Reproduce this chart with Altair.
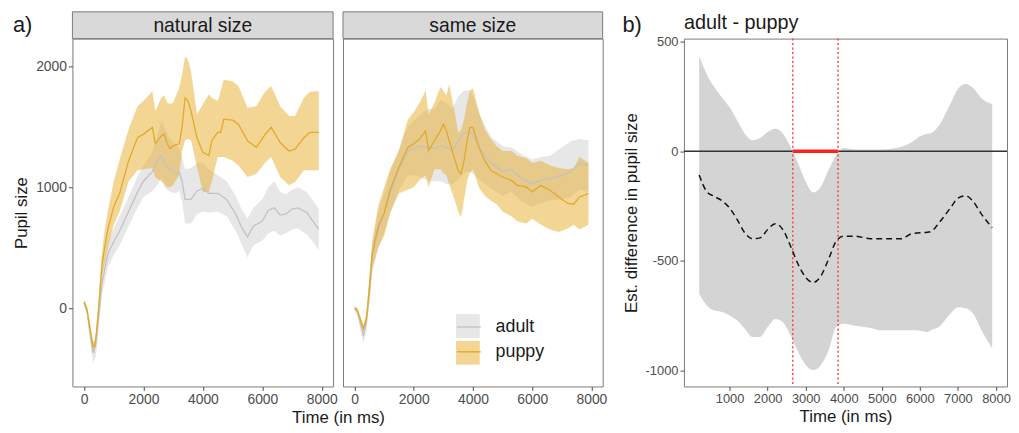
import altair as alt
import pandas as pd

FONT = "Liberation Sans"

# ---------------- panel a) natural size ----------------
nat_puppy_t = [0, 100, 200, 300, 350, 400, 500, 600, 700, 800, 1000, 1200, 1500, 1800, 2000, 2300, 2400, 2600,
               2700, 2800, 2900, 3000, 3200, 3300, 3400, 3500, 3600, 3800, 4000, 4200, 4300, 4500, 4600, 4700,
               5000, 5200, 5500, 5800, 6100, 6300, 6600, 6900, 7100, 7400, 7600, 7900]
nat_puppy_mean = [50, -10, -170, -310, -320, -250, 20, 350, 510, 650, 840, 950, 1220, 1410, 1440, 1495, 1360, 1425,
                  1440, 1360, 1320, 1345, 1360, 1495, 1740, 1713, 1630, 1410, 1290, 1262, 1385, 1455, 1455, 1563,
                  1555, 1520, 1385, 1330, 1440, 1495, 1370, 1300, 1315, 1410, 1455, 1455]
nat_puppy_hi = [70, 20, -120, -270, -280, -200, 100, 450, 650, 800, 1050, 1230, 1480, 1670, 1713, 1795, 1630, 1740,
                1760, 1700, 1690, 1700, 1822, 1932, 2082, 2055, 1960, 1604, 1686, 1768, 1740, 1713, 1795, 1890,
                1877, 1836, 1658, 1672, 1795, 1836, 1672, 1590, 1590, 1740, 1790, 1795]
nat_puppy_lo = [30, -40, -220, -360, -370, -300, -60, 250, 380, 500, 690, 800, 1050, 1140, 1150, 1160, 1080, 1050,
                1030, 1000, 1000, 1020, 1100, 1300, 1390, 1400, 1390, 1170, 960, 960, 1050, 1250, 1250, 1250,
                1220, 1180, 1085, 1112, 1207, 1250, 1085, 1016, 1044, 1140, 1140, 1140]

nat_adult_t = [0, 100, 200, 300, 400, 500, 600, 800, 1000, 1200, 1500, 1800, 2000, 2300, 2500, 2600, 2700, 2900,
               3100, 3200, 3300, 3400, 3600, 3800, 4000, 4200, 4500, 4800, 5100, 5300, 5500, 5700, 6000, 6200,
               6400, 6600, 6800, 7000, 7200, 7500, 7700, 7900]
nat_adult_mean = [40, -20, -200, -370, -300, -50, 200, 450, 550, 640, 800, 960, 1050, 1130, 1230, 1260, 1200, 1150,
                  1120, 1130, 1050, 900, 900, 970, 990, 950, 950, 900, 780, 670, 590, 680, 720, 810,
                  830, 770, 780, 820, 830, 790, 720, 650]
nat_adult_hi = [60, 0, -160, -310, -240, 30, 300, 560, 660, 760, 920, 1090, 1180, 1290, 1450, 1550, 1500, 1400,
                1350, 1330, 1250, 1150, 1160, 1200, 1200, 1150, 1100, 1050, 930, 820, 740, 830, 900, 1000,
                1050, 960, 940, 980, 1000, 960, 890, 820]
nat_adult_lo = [20, -60, -260, -450, -400, -150, 100, 340, 440, 520, 680, 830, 920, 970, 1030, 1080, 1000, 960,
                950, 970, 880, 700, 700, 780, 800, 790, 800, 760, 640, 530, 420, 520, 560, 620,
                640, 600, 620, 650, 660, 610, 550, 480]

# ---------------- panel a) same size ----------------
same_puppy_t = [0, 100, 300, 400, 500, 600, 800, 1000, 1200, 1500, 1800, 2000, 2200, 2400, 2500, 2700, 2900, 3000,
                3100, 3200, 3400, 3500, 3600, 3700, 3800, 3900, 4000, 4200, 4400, 4600, 4800, 5000, 5300, 5500,
                5800, 6000, 6300, 6600, 6900, 7200, 7400, 7600, 7900]
same_puppy_mean = [0, -20, -170, -90, 155, 455, 675, 785, 975, 1165, 1330, 1360, 1400, 1467, 1303, 1385, 1467, 1522,
                   1467, 1385, 1220, 1140, 1112, 1220, 1385, 1495, 1495, 1330, 1220, 1140, 1112, 1085, 1057, 1016,
                   1003, 962, 1016, 975, 920, 866, 860, 920, 948]
same_puppy_hi = [10, 0, -140, -40, 250, 560, 850, 1000, 1150, 1300, 1560, 1620, 1700, 1800, 1600, 1700, 1830, 1800,
                 1760, 1850, 1600, 1450, 1480, 1560, 1700, 1800, 1820, 1620, 1480, 1400, 1340, 1300, 1300, 1260,
                 1240, 1200, 1220, 1180, 1160, 1150, 1160, 1250, 1200]
same_puppy_lo = [-10, -40, -200, -140, 50, 330, 500, 600, 790, 950, 980, 1000, 1060, 1100, 1000, 1150, 1150, 1120,
                 1100, 1020, 880, 800, 750, 900, 1050, 1120, 1150, 1000, 930, 890, 860, 800, 760, 720,
                 700, 740, 690, 650, 630, 660, 690, 650, 690]

same_adult_t = [0, 100, 300, 400, 500, 600, 800, 1000, 1200, 1500, 1800, 2000, 2200, 2500, 2700, 2900, 3100, 3300,
                3500, 3700, 3900, 4000, 4300, 4600, 5000, 5300, 5600, 6000, 6300, 6600, 7000, 7300, 7600, 7900]
same_adult_mean = [0, -30, -230, -120, 150, 420, 650, 780, 950, 1150, 1300, 1320, 1340, 1330, 1320, 1340, 1330, 1300,
                   1380, 1450, 1460, 1430, 1300, 1200, 1130, 1150, 1080, 1030, 1060, 1070, 1100, 1130, 1200, 1180]
same_adult_hi = [20, 0, -180, -60, 260, 540, 800, 950, 1120, 1320, 1500, 1550, 1600, 1650, 1650, 1720, 1700, 1650,
                 1750, 1800, 1800, 1760, 1560, 1420, 1340, 1330, 1280, 1230, 1250, 1260, 1330, 1380, 1400, 1390]
same_adult_lo = [-20, -70, -290, -190, 40, 300, 500, 620, 780, 980, 1100, 1100, 1090, 1050, 1050, 1050, 1030, 1020,
                 1060, 1120, 1130, 1110, 1050, 990, 930, 960, 890, 840, 870, 890, 900, 920, 980, 960]

# ---------------- panel b) adult - puppy ----------------
diff_t = [200, 400, 600, 800, 1000, 1200, 1400, 1600, 1800, 2000, 2200, 2400, 2600, 2800, 3000, 3200, 3400, 3600,
          3800, 4000, 4300, 4700, 5000, 5500, 5800, 6000, 6200, 6300, 6500, 6800, 7000, 7200, 7400, 7600, 7900]
diff_mean = [-108, -184, -206, -226, -259, -312, -372, -399, -395, -357, -330, -357, -432, -515, -575, -598, -568,
             -492, -410, -387, -387, -399, -399, -399, -375, -372, -369, -365, -327, -259, -214, -203, -229, -282, -349]
diff_hi = [434, 351, 291, 245, 200, 140, 80, 50, 60, 87, 102, 80, 20, -56, -139, -188, -161,
           -86, -18, 15, 8, 8, 8, 20, 42, 68, 80, 83, 117, 215, 283, 306, 288, 245, 215]
diff_lo = [-650, -703, -726, -733, -748, -771, -809, -846, -846, -801, -764, -779, -839, -914, -974, -997, -974,
           -907, -801, -786, -795, -805, -816, -816, -816, -818, -824, -815, -801, -741, -711, -715, -740, -809, -899]
sig_start = [2660]
sig_end = [3850]

groups = ["adult", "puppy"]
ribbon_colors = ["#D0D0D2", "#E8AE2A"]
line_colors = ["#C2C2C5", "#E2A92C"]


def frame(t, mean, lo, hi, group):
    n = len(t)
    return pd.DataFrame({"time": t, "mean": mean, "lo": lo, "hi": hi,
                         "group": [group] * n, "grp": [group] * n})


W1, W2, W3, H = 263, 262, 326, 351
X_DOM = [-390, 8380]
Y_DOM = [-648, 2230]

fill_scale = alt.Scale(domain=groups, range=ribbon_colors)
stroke_scale = alt.Scale(range=line_colors)


def facet_panel(adult, puppy, label, width, first):
    if first:
        xaxis = alt.Axis(values=[0, 2000, 4000, 6000, 8000], format="d", title="Time (in ms)",
                         titleX=268, titlePadding=3)
        yaxis = alt.Axis(values=[0, 1000, 2000], format="d", title="Pupil size", titlePadding=5)
        fill_leg = None
        stroke_leg = None
    else:
        xaxis = alt.Axis(values=[0, 2000, 4000, 6000, 8000], format="d", title=None)
        yaxis = None
        fill_leg = alt.Legend(orient="none", legendX=114, legendY=278, title=None, symbolType="square",
                              symbolSize=576, symbolOpacity=0.5, symbolStrokeWidth=0, labelOpacity=0,
                              labelFontSize=18, labelOffset=14, rowPadding=3, padding=0)
        stroke_leg = alt.Legend(orient="none", legendX=114, legendY=278, title=None, symbolType="stroke",
                                symbolSize=576, symbolStrokeWidth=1.4, labelFontSize=18, labelOffset=14,
                                labelColor="#1a1a1a", rowPadding=3, padding=0)
    x = alt.X("time:Q", scale=alt.Scale(domain=X_DOM, nice=False, zero=False), axis=xaxis)

    def ylo():
        return alt.Y("lo:Q", scale=alt.Scale(domain=Y_DOM, nice=False, zero=False), axis=yaxis)

    def ymean():
        return alt.Y("mean:Q", scale=alt.Scale(domain=Y_DOM, nice=False, zero=False), axis=yaxis)

    layers = []
    for df in (adult, puppy):
        layers.append(alt.Chart(df).mark_area(fillOpacity=0.5).encode(
            x=x, y=ylo(), y2="hi:Q", fill=alt.Fill("group:N", scale=fill_scale, legend=fill_leg)))
    for df in (adult, puppy):
        layers.append(alt.Chart(df).mark_line(strokeWidth=1.3).encode(
            x=x, y=ymean(), stroke=alt.Stroke("grp:N", scale=stroke_scale, legend=stroke_leg)))
    strip = pd.DataFrame({"label": [label]})
    layers.append(alt.Chart(strip).mark_rect(fill="#D9D9D9", stroke="#7a7a7a", strokeWidth=1).encode(
        x=alt.value(0), x2=alt.value(width), y=alt.value(-27), y2=alt.value(0)))
    layers.append(alt.Chart(strip).mark_text(fontSize=19.5, font=FONT, color="#1a1a1a", baseline="middle").encode(
        x=alt.value(width / 2), y=alt.value(-13), text="label:N"))
    if first:
        tag = pd.DataFrame({"tag": ["a)"]})
        layers.append(alt.Chart(tag).mark_text(fontSize=22, font=FONT, color="#1a1a1a", align="left",
                                               baseline="alphabetic").encode(
            x=alt.value(-60), y=alt.value(-6.5), text="tag:N"))
    return alt.layer(*layers).properties(width=width, height=H)


p1 = facet_panel(frame(nat_adult_t, nat_adult_mean, nat_adult_lo, nat_adult_hi, "adult"),
                 frame(nat_puppy_t, nat_puppy_mean, nat_puppy_lo, nat_puppy_hi, "puppy"),
                 "natural size", W1, True)
p2 = facet_panel(frame(same_adult_t, same_adult_mean, same_adult_lo, same_adult_hi, "adult"),
                 frame(same_puppy_t, same_puppy_mean, same_puppy_lo, same_puppy_hi, "puppy"),
                 "same size", W2, False)

# ---------------- panel b ----------------
diff_df = pd.DataFrame({"time": diff_t, "mean": diff_mean, "lo": diff_lo, "hi": diff_hi})
zero_df = pd.DataFrame({"y": [0]})
sig_df = pd.DataFrame({"start": sig_start, "end": sig_end, "y": [0]})
bound_df = pd.DataFrame({"time": sig_start + sig_end})

X3 = alt.Scale(domain=[-200, 8290], nice=False, zero=False)
Y3 = alt.Scale(domain=[-1072, 513], nice=False, zero=False)
x3axis = alt.Axis(values=[1000, 2000, 3000, 4000, 5000, 6000, 7000, 8000], format="d", title="Time (in ms)",
                  titlePadding=3, labelFontSize=13)
y3axis = alt.Axis(values=[500, 0, -500, -1000], labelExpr="'' + datum.value",
                  title="Est. difference in pupil size", titlePadding=5, labelFontSize=13)

band = alt.Chart(diff_df).mark_area(fill="#D4D4D4", interpolate="monotone").encode(
    x=alt.X("time:Q", scale=X3, axis=x3axis), y=alt.Y("lo:Q", scale=Y3, axis=y3axis), y2="hi:Q")
zero = alt.Chart(zero_df).mark_rule(color="#333333", strokeWidth=1.5).encode(
    y=alt.Y("y:Q", scale=Y3, axis=y3axis))
sig = alt.Chart(sig_df).mark_rule(color="#FF1F1F", strokeWidth=3.5).encode(
    x=alt.X("start:Q", scale=X3, axis=x3axis), x2="end:Q", y=alt.Y("y:Q", scale=Y3, axis=y3axis))
bounds = alt.Chart(bound_df).mark_rule(color="#FF3B3B", strokeWidth=1.4, strokeDash=[2, 2.5]).encode(
    x=alt.X("time:Q", scale=X3, axis=x3axis))
dline = alt.Chart(diff_df).mark_line(color="#111111", strokeWidth=1.5, strokeDash=[6, 4],
                                     interpolate="monotone").encode(
    x=alt.X("time:Q", scale=X3, axis=x3axis), y=alt.Y("mean:Q", scale=Y3, axis=y3axis))
texts_b = pd.DataFrame({"tag": ["b)"], "title": ["adult - puppy"]})
tagb = alt.Chart(texts_b).mark_text(fontSize=22, font=FONT, color="#1a1a1a", align="left",
                                    baseline="alphabetic").encode(
    x=alt.value(-62), y=alt.value(-6.5), text="tag:N")
titleb = alt.Chart(texts_b).mark_text(fontSize=20, font=FONT, color="#1a1a1a", align="left",
                                      baseline="alphabetic").encode(
    x=alt.value(0), y=alt.value(-10), text="title:N")

p3 = alt.layer(band, zero, sig, bounds, dline, tagb, titleb).properties(width=W3, height=H)

left = alt.hconcat(p1, p2, spacing=10, bounds="flush").resolve_legend(
    fill="independent", stroke="independent")

chart = alt.hconcat(left, p3, spacing=14).resolve_legend(
    fill="independent", stroke="independent").properties(
    padding={"left": 4, "top": 1, "right": 0, "bottom": 0}
).configure(font=FONT).configure_view(
    stroke="#7a7a7a", strokeWidth=1
).configure_axis(
    grid=False, domain=False, tickColor="#4d4d4d", tickSize=4, labelPadding=2, labelColor="#4d4d4d",
    labelFontSize=14, labelFont=FONT, titleFont=FONT, titleFontSize=17, titleFontWeight="normal",
    titleColor="#1a1a1a"
).configure_legend(labelFont=FONT)

chart.save("out.html", embed_options={"renderer": "svg", "actions": False})
